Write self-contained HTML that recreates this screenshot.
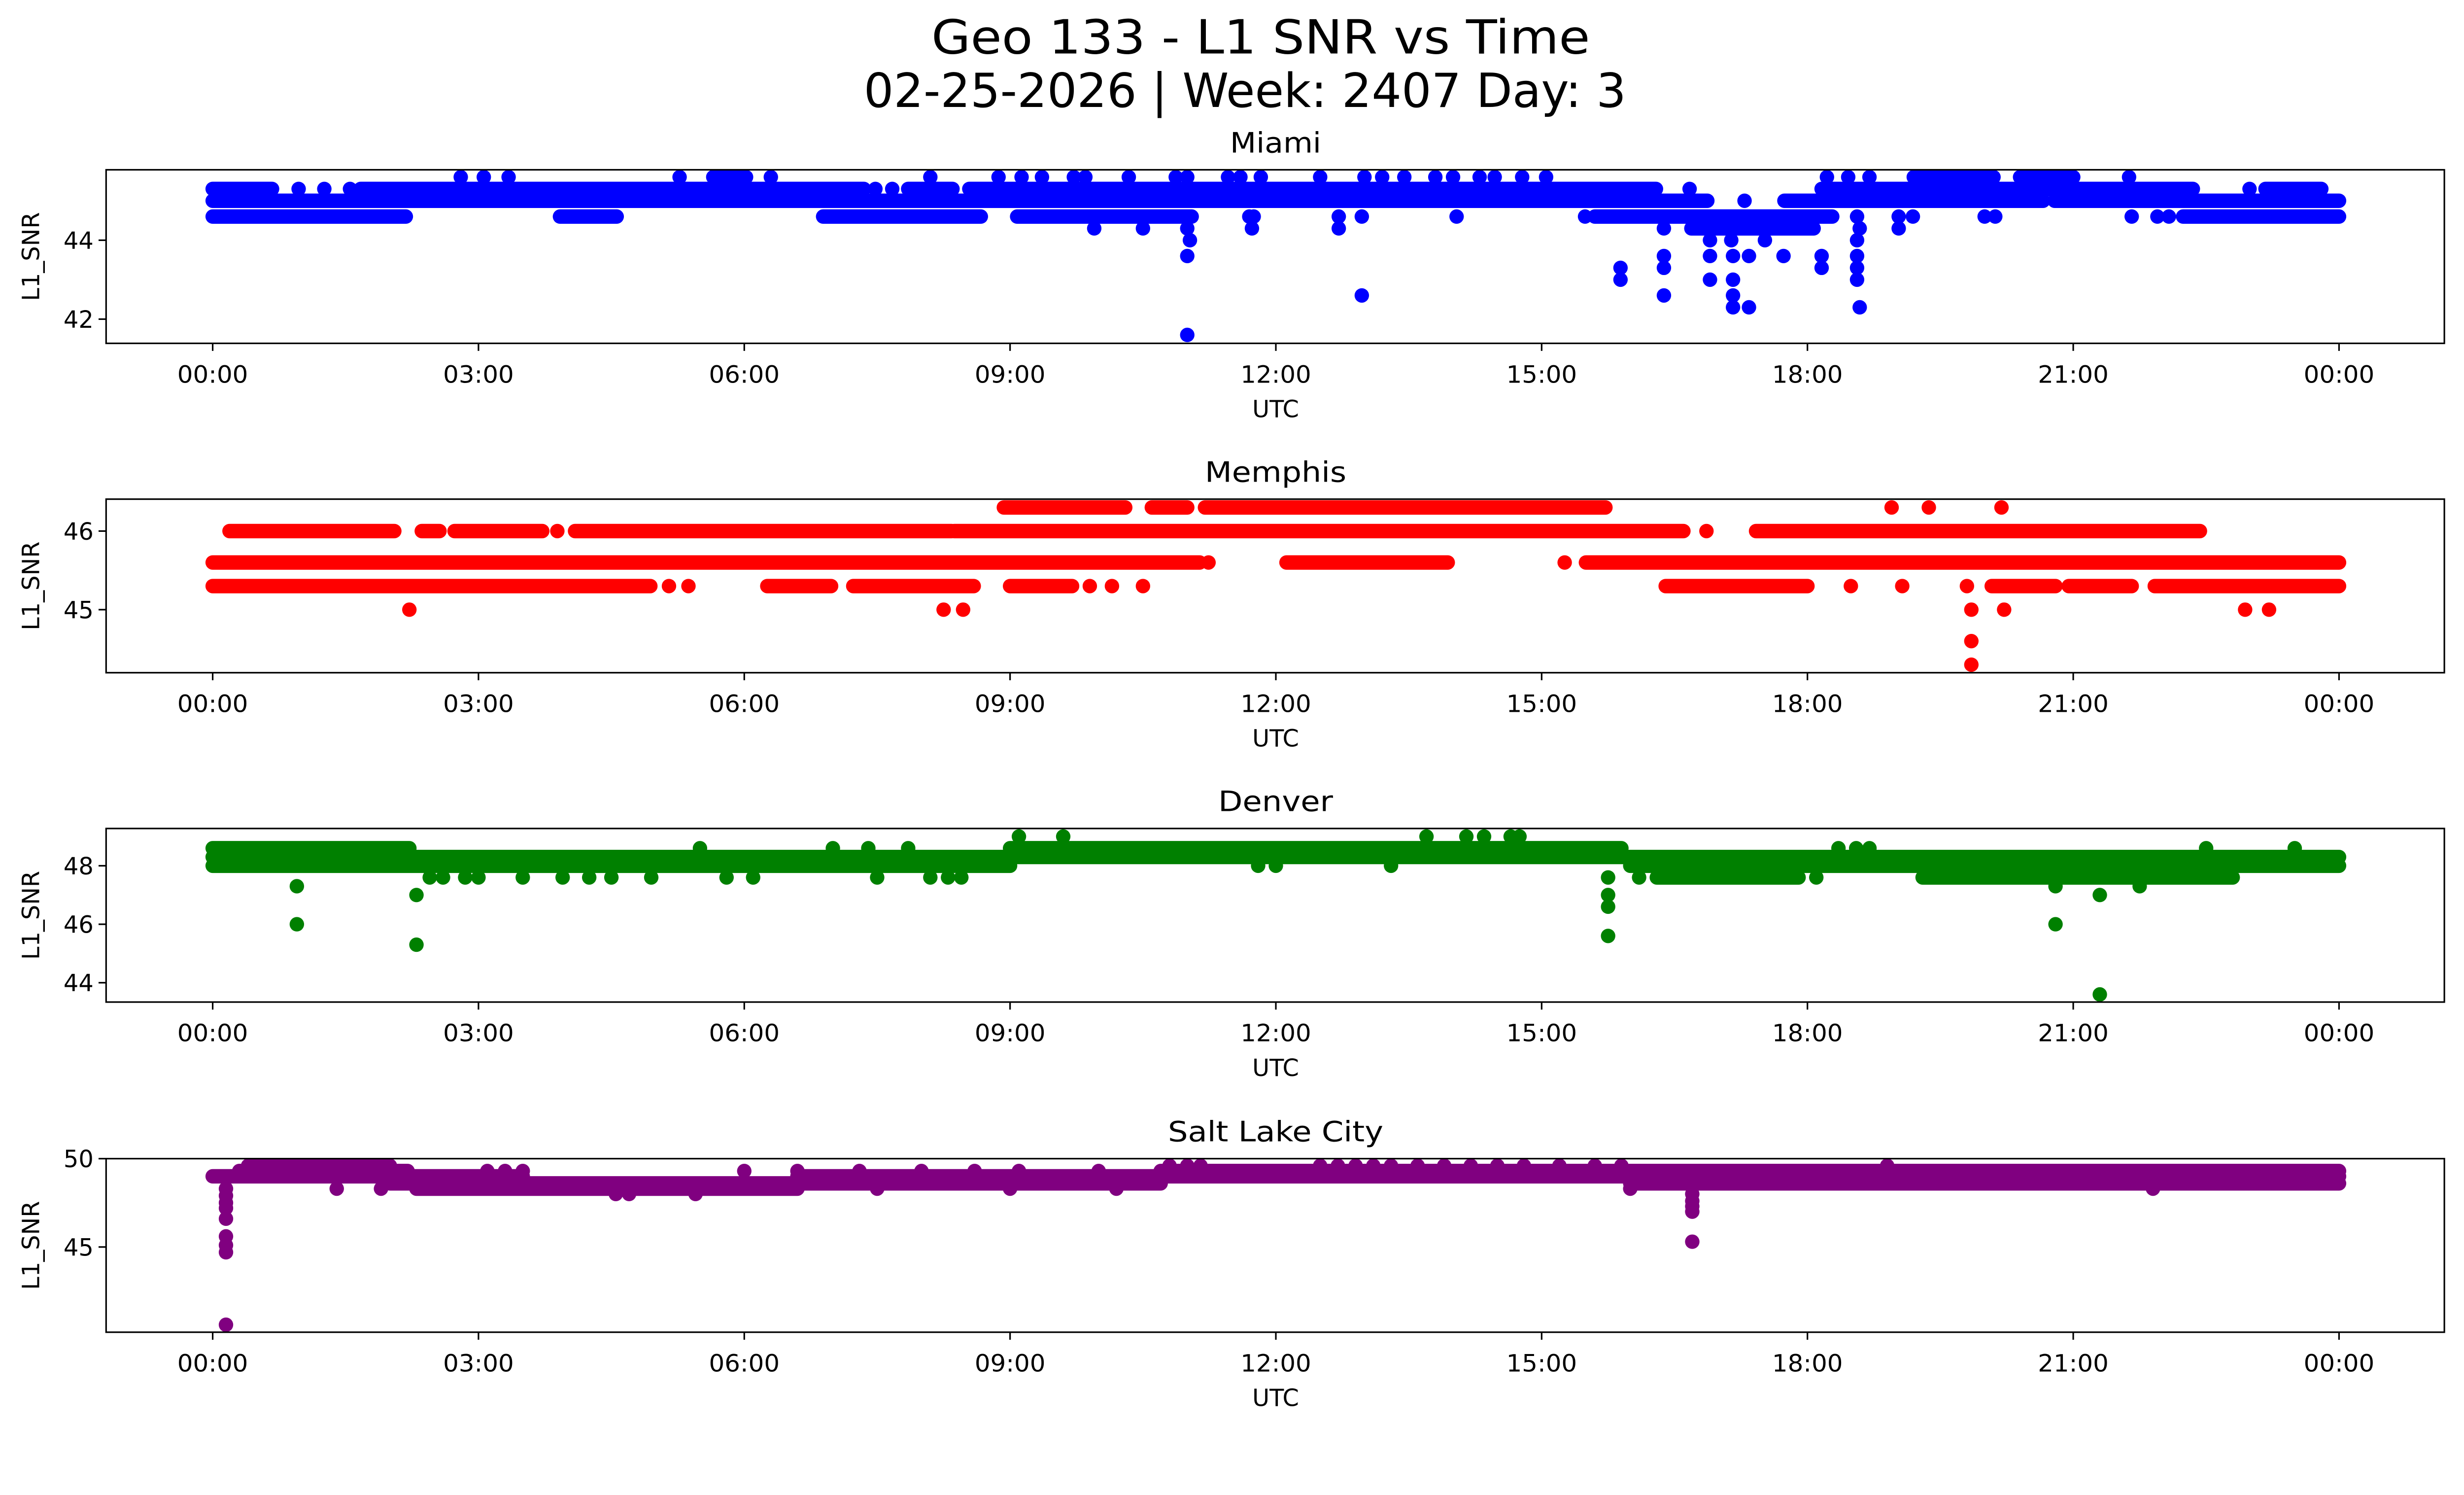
<!DOCTYPE html>
<html><head><meta charset="utf-8"><style>
html,body{margin:0;padding:0;background:#fff;overflow:hidden;}
svg{display:block;position:absolute;left:0;top:0;width:100vw;height:calc(100vw * 3033 / 5225);}
text{font-family:"DejaVu Sans","Liberation Sans",sans-serif;fill:#000;}
</style></head><body>
<svg id="fig" viewBox="0 0 1567.5 910" preserveAspectRatio="none" xmlns="http://www.w3.org/2000/svg">
<rect x="0" y="0" width="1567.5" height="910" fill="#fff"/>
<text x="802" y="34" font-size="30" text-anchor="middle" textLength="419" lengthAdjust="spacingAndGlyphs">Geo 133 - L1 SNR vs Time</text>
<text x="792" y="68" font-size="30" text-anchor="middle" textLength="485" lengthAdjust="spacingAndGlyphs">02-25-2026 | Week: 2407 Day: 3</text>
</svg>
<script>
const xTickHours = [0,3,6,9,12,15,18,21,24];
const xTickLabels = ["00:00","03:00","06:00","09:00","12:00","15:00","18:00","21:00","00:00"];

const miamiBands = [[0,0.67,45.3],[1.67,7.35,45.3],[7.85,8.35,45.3],[8.54,16.29,45.3],[18.16,22.35,45.3],[23.17,23.8,45.3],
 [0,16.87,45.0],[17.74,20.66,45.0],[20.79,24,45.0],
 [0,2.18,44.6],[3.92,4.56,44.6],[6.89,8.67,44.6],[9.08,11.05,44.6],[15.6,18.28,44.6],[22.24,24,44.6],
 [16.69,18.07,44.3],[19.2,20.1,45.6],[20.4,21.0,45.6],[5.65,6.02,45.6]];
const miamiPoints = [[2.8,45.6],[3.06,45.6],[3.34,45.6],[5.27,45.6],[6.3,45.6],[8.1,45.6],[8.87,45.6],[9.13,45.6],[9.36,45.6],[9.72,45.6],[9.85,45.6],[10.34,45.6],[10.87,45.6],[11.0,45.6],[11.46,45.6],[11.6,45.6],[11.83,45.6],[12.5,45.6],[13.0,45.6],[13.2,45.6],[13.45,45.6],[13.8,45.6],[14.0,45.6],[14.3,45.6],[14.47,45.6],[14.78,45.6],[15.05,45.6],[18.22,45.6],[18.46,45.6],[18.7,45.6],[21.63,45.6],
 [0.97,45.3],[1.26,45.3],[1.55,45.3],[7.48,45.3],[7.67,45.3],[16.67,45.3],[22.99,45.3],[17.29,45.0],
 [11.7,44.6],[11.75,44.6],[12.71,44.6],[12.97,44.6],[14.04,44.6],[15.49,44.6],[18.56,44.6],[19.03,44.6],[19.19,44.6],[20.0,44.6],[20.12,44.6],[21.66,44.6],[21.95,44.6],[22.08,44.6],
 [9.95,44.3],[10.5,44.3],[11.0,44.3],[11.73,44.3],[12.71,44.3],[16.38,44.3],[18.59,44.3],[19.03,44.3],
 [11.03,44.0],[16.9,44.0],[17.14,44.0],[17.52,44.0],[18.56,44.0],
 [11.0,43.6],[16.38,43.6],[16.9,43.6],[17.16,43.6],[17.34,43.6],[17.73,43.6],[18.16,43.6],[18.56,43.6],
 [15.89,43.3],[16.38,43.3],[18.16,43.3],[18.56,43.3],[15.89,43.0],[16.9,43.0],[17.16,43.0],[18.56,43.0],
 [12.97,42.6],[16.38,42.6],[17.16,42.6],[17.16,42.3],[17.34,42.3],[18.59,42.3],[11.0,41.6]];

const memphisBands = [[8.93,10.3,46.3],[10.6,11.0,46.3],[11.2,15.72,46.3],
 [0.19,2.05,46.0],[2.36,2.56,46.0],[2.73,3.72,46.0],[4.09,8.34,46.0],[8.37,16.6,46.0],[17.42,22.43,46.0],
 [0,11.14,45.6],[12.12,13.94,45.6],[15.5,24,45.6],
 [0,4.94,45.3],[6.26,6.98,45.3],[7.23,8.59,45.3],[9.0,9.7,45.3],[16.4,18.0,45.3],[20.08,20.8,45.3],[20.95,21.66,45.3],[21.92,24,45.3]];
const memphisPoints = [[18.95,46.3],[19.37,46.3],[20.19,46.3],[16.86,46.0],[3.89,46.0],[11.24,45.6],[15.26,45.6],
 [5.15,45.3],[5.37,45.3],[9.9,45.3],[10.15,45.3],[10.5,45.3],[18.49,45.3],[19.07,45.3],[19.8,45.3],
 [2.22,45.0],[8.25,45.0],[8.47,45.0],[19.85,45.0],[20.22,45.0],[22.94,45.0],[23.21,45.0],[19.85,44.6],[19.85,44.3]];

const denverBands = [[0,9.0,48.0],[16.0,24,48.0],[0,24,48.3],[0,2.22,48.6],[9.0,15.9,48.6],[16.3,17.9,47.6],[19.3,22.8,47.6]];
const denverPoints = [[2.45,47.6],[2.6,47.6],[2.85,47.6],[3.0,47.6],[3.5,47.6],[3.95,47.6],[4.25,47.6],[4.5,47.6],[4.95,47.6],[5.8,47.6],[6.1,47.6],[7.5,47.6],[8.1,47.6],[8.3,47.6],[8.45,47.6],[15.75,47.6],[16.1,47.6],[18.1,47.6],
 [5.5,48.6],[7.0,48.6],[7.4,48.6],[7.85,48.6],[18.35,48.6],[18.55,48.6],[18.7,48.6],[22.5,48.6],[23.5,48.6],
 [9.1,49.0],[9.6,49.0],[13.7,49.0],[14.15,49.0],[14.35,49.0],[14.65,49.0],[14.75,49.0],
 [11.8,48.0],[12.0,48.0],[13.3,48.0],
 [0.95,47.3],[20.8,47.3],[21.75,47.3],[2.3,47.0],[15.75,47.0],[21.3,47.0],[15.75,46.6],[0.95,46.0],[20.8,46.0],[15.75,45.6],[2.3,45.3],[21.3,43.6]];

const slcBands = [[0.4,2.0,49.6],[0.3,2.2,49.3],[10.7,24,49.3],[0,2.2,49.0],[2.0,3.5,49.0],[6.6,24,49.0],
 [2.0,10.7,48.6],[16.0,24,48.6],[2.3,6.6,48.3]];
const slcPoints = [[10.8,49.6],[11.0,49.6],[11.15,49.6],[12.5,49.6],[12.7,49.6],[12.9,49.6],[13.1,49.6],[13.3,49.6],[13.6,49.6],[13.9,49.6],[14.2,49.6],[14.5,49.6],[14.8,49.6],[15.2,49.6],[15.6,49.6],[15.9,49.6],[18.9,49.6],
 [3.1,49.3],[3.3,49.3],[3.5,49.3],[6.0,49.3],[6.6,49.3],[7.3,49.3],[8.0,49.3],[8.6,49.3],[9.1,49.3],[10.0,49.3],
 [1.4,48.3],[1.9,48.3],[7.5,48.3],[9.0,48.3],[10.2,48.3],[16.0,48.3],[21.9,48.3],
 [4.55,48.0],[4.7,48.0],[5.45,48.0],
 [0.15,48.3],[0.15,47.9],[0.15,47.5],[0.15,47.2],[0.15,46.6],[0.15,45.6],[0.15,45.1],[0.15,44.7],[0.15,40.6],
 [16.7,48.0],[16.7,47.6],[16.7,47.3],[16.7,47.0],[16.7,45.3]];

const miamiTicks = [42,44], memphisTicks = [45,46], denverTicks = [44,46,48], slcTicks = [45,50];

const NS = "http://www.w3.org/2000/svg";
const svg = document.getElementById('fig');
const L = 67.5, R = 1555, H = 110.4, R_DOT = 4.6;
function xs(h){ return 135.3 + h * (1488 - 135.3) / 24; }
function mk(tag, attrs){ const e = document.createElementNS(NS, tag); for (const k in attrs) e.setAttribute(k, attrs[k]); return e; }

const panels = [
 {name:"Miami", key:"miami", top:108, color:"#0000ff", bands:miamiBands, points:miamiPoints, ticks:miamiTicks, refV:44, refY:152.8, ppu:25.1, tw:58},
 {name:"Memphis", key:"memphis", top:317.5, color:"#ff0000", bands:memphisBands, points:memphisPoints, ticks:memphisTicks, refV:46, refY:337.8, ppu:50, tw:90},
 {name:"Denver", key:"denver", top:527, color:"#008000", bands:denverBands, points:denverPoints, ticks:denverTicks, refV:48, refY:550.7, ppu:18.6, tw:73},
 {name:"Salt Lake City", key:"salt-lake-city", top:737, color:"#800080", bands:slcBands, points:slcPoints, ticks:slcTicks, refV:50, refY:737, ppu:11.24, tw:137}
];

panels.forEach(p => {
  const ys = v => p.refY - (v - p.refV) * p.ppu;
  const g = mk('g', {});
  
  
  svg.appendChild(g);
  const clipId = 'clip-' + p.key;
  const cp = mk('clipPath', {id: clipId});
  cp.appendChild(mk('rect', {x: L, y: p.top, width: R - L, height: H}));
  g.appendChild(cp);
  const marks = mk('g', {'clip-path': 'url(#' + clipId + ')'});
  
  
  g.appendChild(marks);
  p.bands.forEach(b => {
    const ln = mk('line', {x1: xs(b[0]), x2: xs(b[1]), y1: ys(b[2]), y2: ys(b[2]), stroke: p.color, 'stroke-width': R_DOT * 2, 'stroke-linecap': 'round'});
    
    
    marks.appendChild(ln);
  });
  p.points.forEach(pt => {
    const c = mk('circle', {cx: xs(pt[0]), cy: ys(pt[1]), r: R_DOT, fill: p.color});
    
    
    marks.appendChild(c);
  });
  const frame = mk('rect', {x: L, y: p.top, width: R - L, height: H, fill: 'none', stroke: '#000', 'stroke-width': 1});
  
  
  g.appendChild(frame);
  const bottom = p.top + H;
  xTickHours.forEach((h, i) => {
    const t = mk('line', {x1: xs(h), x2: xs(h), y1: bottom, y2: bottom + 4.8, stroke: '#000', 'stroke-width': 1});
    
    
    g.appendChild(t);
    const tx = mk('text', {x: xs(h), y: bottom + 25, 'font-size': 15, 'text-anchor': 'middle', textLength: 45, lengthAdjust: 'spacingAndGlyphs'});
    tx.textContent = xTickLabels[i];
    
    
    g.appendChild(tx);
  });
  p.ticks.forEach(v => {
    const t = mk('line', {x1: L - 4.8, x2: L, y1: ys(v), y2: ys(v), stroke: '#000', 'stroke-width': 1});
    
    
    g.appendChild(t);
    const tx = mk('text', {x: L - 8, y: ys(v) + 5.5, 'font-size': 15, 'text-anchor': 'end'});
    tx.textContent = String(v);
    
    
    g.appendChild(tx);
  });
  const title = mk('text', {x: 811.5, y: p.top - 11, 'font-size': 18, 'text-anchor': 'middle', textLength: p.tw, lengthAdjust: 'spacingAndGlyphs'});
  title.textContent = p.name;
  
  
  g.appendChild(title);
  const xl = mk('text', {x: 811.5, y: bottom + 47, 'font-size': 15, 'text-anchor': 'middle'});
  xl.textContent = 'UTC';
  
  
  g.appendChild(xl);
  const cy = p.top + H / 2;
  const yl = mk('text', {x: 25, y: cy, 'font-size': 15, 'text-anchor': 'middle', transform: 'rotate(-90 25 ' + cy + ')'});
  yl.textContent = 'L1_SNR';
  
  
  g.appendChild(yl);
});
</script>
</body></html>
